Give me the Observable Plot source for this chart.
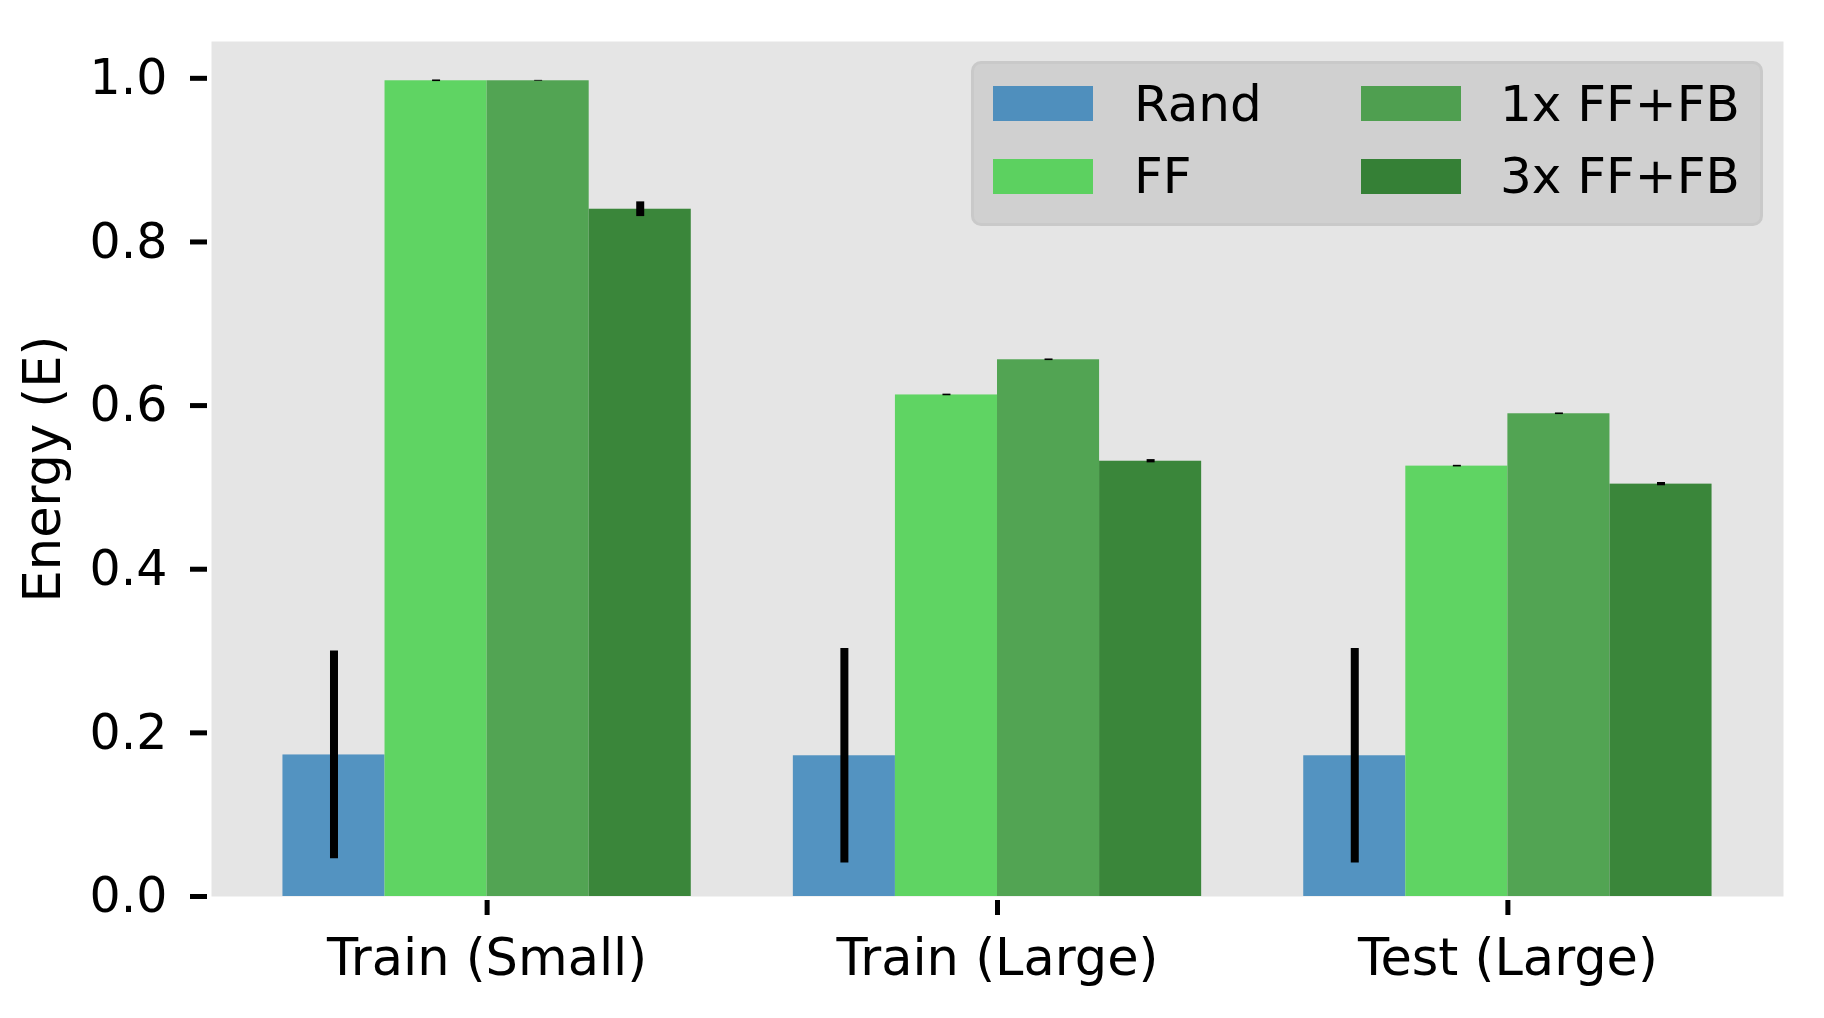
<!DOCTYPE html>
<html>
<head>
<meta charset="utf-8">
<script src="https://cdn.jsdelivr.net/npm/d3@7"></script>
<script src="https://cdn.jsdelivr.net/npm/@observablehq/plot@0.6"></script>
<style>
  html, body { margin: 0; padding: 0; background: white; }
  #wrap { position: relative; width: 1824px; height: 1018px; font-family: "DejaVu Sans", sans-serif; }
  #legend-box { position: absolute; left: 971px; top: 61px; width: 792px; height: 165px; box-sizing: border-box;
    background: #d0d0d0; border: 3px solid #c9c9c9; border-radius: 10px; }
  .sw { position: absolute; width: 100px; height: 35px; }
  .lt { position: absolute; font-size: 50px; line-height: 50px; color: black; white-space: nowrap; }
</style>
</head>
<body>
<div id="wrap"></div>
<script>
const categories = ["Train (Small)", "Train (Large)", "Test (Large)"];
const series = ["Rand", "FF", "1x FF+FB", "3x FF+FB"];
const randMean = [0.173, 0.172, 0.172];
const randErr  = [0.127, 0.131, 0.131];
const ffMean   = [0.997, 0.613, 0.526];
const ffErr    = [0.001, 0.001, 0.001];
const fb1Mean  = [0.997, 0.656, 0.590];
const fb1Err   = [0.0005, 0.001, 0.001];
const fb3Mean  = [0.840, 0.532, 0.504];
const fb3Err   = [0.009, 0.002, 0.002];
const yTicks = [0, 0.2, 0.4, 0.6, 0.8, 1.0];
const barColors = ["#5393c1", "#5fd463", "#52a453", "#3a863a"];
const legendColors = ["#4f8fbd", "#5cd160", "#4f9f50", "#358036"];

const means = [randMean, ffMean, fb1Mean, fb3Mean];
const errs = [randErr, ffErr, fb1Err, fb3Err];
const rows = [];
categories.forEach((c, ci) => {
  series.forEach((s, si) => {
    rows.push({category: c, ci, series: s, si, value: means[si][ci], err: errs[si][ci]});
  });
});

const groupWidth = 0.8;
const bw = groupWidth / series.length;
const left = d => d.ci - groupWidth / 2 + d.si * bw;

const chart = Plot.plot({
  width: 1824,
  height: 1018,
  marginTop: 41,
  marginBottom: 122,
  marginLeft: 211,
  marginRight: 41,
  style: {fontFamily: "DejaVu Sans", fontSize: "49px", color: "black", background: "white"},
  x: {domain: [-0.54, 2.54], axis: null},
  y: {domain: [0, 1.045], axis: null},
  color: {domain: series, range: barColors},
  marks: [
    Plot.frame({fill: "#e5e5e5", stroke: "none"}),
    Plot.rectY(rows, {x1: left, x2: d => left(d) + bw, y1: 0, y2: "value", fill: "series"}),
    Plot.ruleX(rows, {x: d => left(d) + bw / 2, y1: d => d.value - d.err, y2: d => d.value + d.err, stroke: "black", strokeWidth: 8}),
    Plot.axisY({ticks: yTicks, tickFormat: d3.format(".1f"), tickSize: 17, tickPadding: 23, dx: -4, strokeWidth: 5, label: null, fontSize: 49}),
    Plot.axisX({ticks: [0, 1, 2], tickFormat: i => categories[i], tickSize: 15, tickPadding: 23, dy: 4, strokeWidth: 5, label: null, fontSize: 51}),
    Plot.text(["Energy (E)"], {frameAnchor: "left", textAnchor: "middle", dx: -168, rotate: -90, fontSize: 51, fill: "black"})
  ]
});

const wrap = document.getElementById("wrap");
wrap.appendChild(chart);

const box = document.createElement("div");
box.id = "legend-box";
wrap.appendChild(box);
const legendPos = [
  {sx: 993, sy: 86, tx: 1134, ty: 79},
  {sx: 993, sy: 159, tx: 1134, ty: 151},
  {sx: 1361, sy: 86, tx: 1500, ty: 79},
  {sx: 1361, sy: 159, tx: 1500, ty: 151}
];
series.forEach((s, i) => {
  const p = legendPos[i];
  const sw = document.createElement("div");
  sw.className = "sw";
  sw.style.left = p.sx + "px";
  sw.style.top = p.sy + "px";
  sw.style.background = legendColors[i];
  wrap.appendChild(sw);
  const t = document.createElement("div");
  t.className = "lt";
  t.style.left = p.tx + "px";
  t.style.top = p.ty + "px";
  t.textContent = s;
  wrap.appendChild(t);
});
</script>
</body>
</html>
